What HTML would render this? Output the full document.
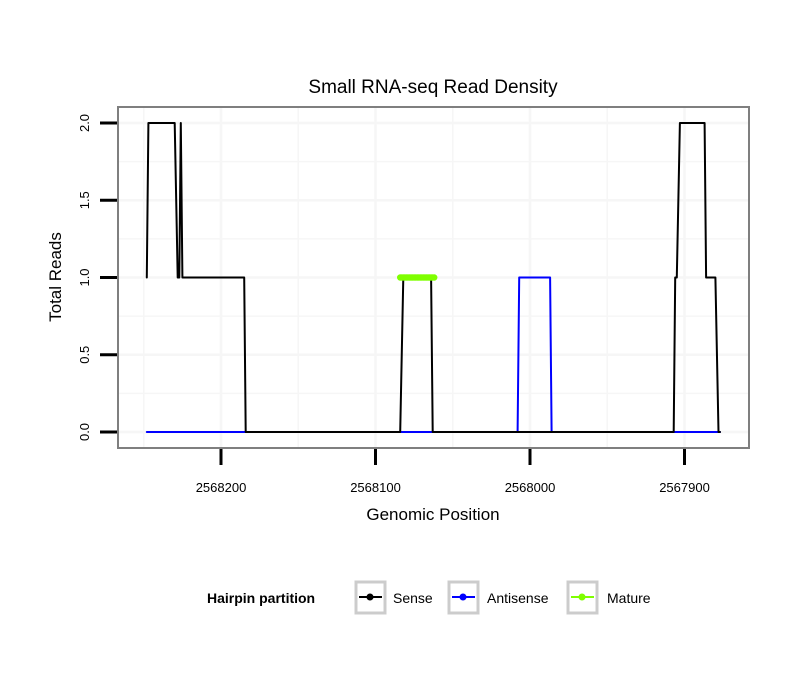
<!DOCTYPE html>
<html><head><meta charset="utf-8"><style>
body{margin:0;background:#fff;font-family:"Liberation Sans",sans-serif}
svg text{font-family:"Liberation Sans",sans-serif}
</style></head><body>
<svg width="810" height="690" viewBox="0 0 810 690">
<rect width="810" height="690" fill="#fff"/>
<text x="433" y="93" font-size="19" text-anchor="middle">Small RNA-seq Read Density</text>
<g id="grid"></g>
<g id="series"></g>
<rect x="118" y="107" width="631" height="341" fill="none" stroke="#7f7f7f" stroke-width="2"/>
<g id="axes"></g>
<text x="433" y="520" font-size="17" text-anchor="middle">Genomic Position</text>
<text transform="translate(61,277) rotate(-90)" font-size="17" text-anchor="middle">Total Reads</text>
<g>
<text x="207" y="603" font-size="14" font-weight="bold">Hairpin partition</text>
<g><rect x="356" y="582" width="29" height="31" fill="#fff" stroke="#ccc" stroke-width="3"/><line x1="359" y1="597" x2="382" y2="597" stroke="#000" stroke-width="2"/><circle cx="370" cy="597" r="3.5" fill="#000"/><text x="393" y="603" font-size="14">Sense</text></g>
<g><rect x="449" y="582" width="29" height="31" fill="#fff" stroke="#ccc" stroke-width="3"/><line x1="452" y1="597" x2="475" y2="597" stroke="#00f" stroke-width="2"/><circle cx="463" cy="597" r="3.5" fill="#00f"/><text x="487" y="603" font-size="14">Antisense</text></g>
<g><rect x="568" y="582" width="29" height="31" fill="#fff" stroke="#ccc" stroke-width="3"/><line x1="571" y1="597" x2="594" y2="597" stroke="#7fff00" stroke-width="2"/><circle cx="582" cy="597" r="3.5" fill="#7fff00"/><text x="607" y="603" font-size="14">Mature</text></g>
</g>
</svg>
<script>
const xTicks=[2568200,2568100,2568000,2567900];
const yTicks=[0,0.5,1,1.5,2];
const yTickLabels=["0.0","0.5","1.0","1.5","2.0"];
const senseX=[2568248,2568247,2568230,2568228,2568227,2568226,2568225,2568185,2568184,2568084,2568082,2568064,2568063,2567907,2567906,2567905,2567903,2567887,2567886,2567880,2567878,2567877];
const senseY=[1,2,2,1,1,2,1,1,0,0,1,1,0,0,1,1,2,2,1,1,0,0];
const antiX=[2568248,2568008,2568007,2567987,2567986,2567877];
const antiY=[0,0,1,1,0,0];
const matureX=[2568084,2568083,2568082,2568081,2568080,2568079,2568078,2568077,2568076,2568075,2568074,2568073,2568072,2568071,2568070,2568069,2568068,2568067,2568066,2568065,2568064,2568063,2568062];
const matureY=[1,1,1,1,1,1,1,1,1,1,1,1,1,1,1,1,1,1,1,1,1,1,1];

const NS="http://www.w3.org/2000/svg";
function X(v){return 221+(2568200-v)*1.545;}
function Y(v){return 432-v*154.5;}
function mk(tag,attrs,parent){const e=document.createElementNS(NS,tag);for(const k in attrs)e.setAttribute(k,attrs[k]);parent.appendChild(e);return e;}
const grid=document.getElementById('grid'),ser=document.getElementById('series'),ax=document.getElementById('axes');
const xg=[...xTicks];for(let i=0;i<xTicks.length-1;i++)xg.push((xTicks[i]+xTicks[i+1])/2);xg.push(xTicks[0]+50);
xg.forEach(v=>{const px=X(v);if(px<119||px>748)return;const l=mk('line',{x1:px,x2:px,y1:108,y2:447,stroke:'#f6f6f6','stroke-width':xTicks.includes(v)?2.5:1.5},grid);

});
const yg=[...yTicks];for(let i=0;i<yTicks.length-1;i++)yg.push((yTicks[i]+yTicks[i+1])/2);yg.push(2.25);
yg.forEach(v=>{const py=Y(v);if(py<108||py>447)return;const l=mk('line',{x1:119,x2:748,y1:py,y2:py,stroke:'#f6f6f6','stroke-width':yTicks.includes(v)?2.5:1.5},grid);

});
function path(xs,ys,color,w,name){const d=xs.map((v,i)=>(i?'L':'M')+X(v).toFixed(1)+','+Y(ys[i]).toFixed(1)).join(' ');
const p=mk('path',{d:d,fill:'none',stroke:color,'stroke-width':w,'stroke-linejoin':'round','stroke-linecap':'round'},ser);

}
path(antiX,antiY,'#00f',2,'antisense-line');
path(senseX,senseY,'#000',2,'sense-line');
path(matureX,matureY,'#7fff00',6,'mature-line');
matureX.forEach((v,i)=>{const c=mk('circle',{cx:X(v),cy:Y(matureY[i]),r:3.2,fill:'#7fff00'},ser);

});
xTicks.forEach(v=>{const px=X(v);const t=mk('line',{x1:px,x2:px,y1:449,y2:465,stroke:'#000','stroke-width':3},ax);


const tx=mk('text',{x:px,y:492,'font-size':13,'text-anchor':'middle'},ax);tx.textContent=v;

});
yTicks.forEach((v,i)=>{const py=Y(v);const t=mk('line',{x1:100,x2:117,y1:py,y2:py,stroke:'#000','stroke-width':3},ax);


const tx=mk('text',{transform:`translate(89,${py}) rotate(-90)`,'font-size':13,'text-anchor':'middle'},ax);tx.textContent=yTickLabels[i];

});
</script>
</body></html>
